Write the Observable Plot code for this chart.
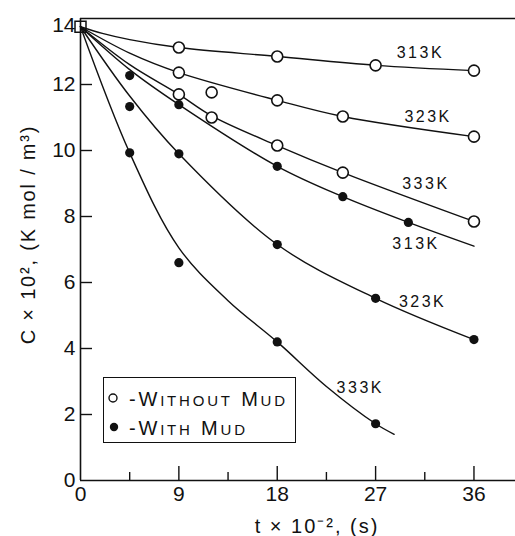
<!DOCTYPE html>
<html><head><meta charset="utf-8">
<script src="https://cdn.jsdelivr.net/npm/d3@7"></script>
<script src="https://cdn.jsdelivr.net/npm/@observablehq/plot@0.6"></script>
<style>
body{margin:0;background:#fff}
#wrap{position:relative;width:515px;height:536px;overflow:hidden}
#legend{position:absolute;left:103px;top:377px;width:193px;height:66px;box-sizing:border-box;border:1.5px solid #111;background:#fff}
</style></head><body><div id="wrap"></div>
<script>
// ---- axis ticks ----
const xTicks = [0, 9, 18, 27, 36];
const xMinorTicks = [4.5, 13.5, 22.5, 31.5];
const yTicks = [0, 2, 4, 6, 8, 10, 12];
const yTopTick = [14];
const xTitle = "t × 10⁻², (s)";
const yTitle = "C × 10², (K mol / m³)";

// ---- initial concentration (square) ----
const initT = [0];
const initC = [13.75];

// ---- measured points: without mud (open circles) ----
const open313T = [9, 18, 27, 36];
const open313C = [13.12, 12.85, 12.58, 12.42];
const open323T = [9, 12, 18, 24, 36];
const open323C = [12.36, 11.76, 11.52, 11.03, 10.42];
const open333T = [9, 12, 18, 24, 36];
const open333C = [11.7, 11.0, 10.15, 9.33, 7.85];

// ---- measured points: with mud (filled dots) ----
const mud313T = [4.5, 9, 18, 24, 30];
const mud313C = [12.27, 11.39, 9.52, 8.6, 7.82];
const mud323T = [4.5, 9, 18, 27, 36];
const mud323C = [11.33, 9.9, 7.15, 5.52, 4.27];
const mud333T = [4.5, 9, 18, 27];
const mud333C = [9.93, 6.6, 4.2, 1.72];

// ---- fitted curves ----
const cOpen313T = [0, 2, 4.5, 9, 18, 27, 36];
const cOpen313C = [13.75, 13.55, 13.36, 13.12, 12.85, 12.58, 12.42];
const cOpen323T = [0, 4.5, 9, 18, 24, 36];
const cOpen323C = [13.75, 12.95, 12.36, 11.52, 11.03, 10.42];
const cOpen333T = [0, 4.5, 9, 12, 18, 24, 36];
const cOpen333C = [13.75, 12.6, 11.7, 11.05, 10.15, 9.33, 7.85];
const cMud313T = [0, 4.5, 9, 18, 24, 30, 36];
const cMud313C = [13.75, 12.45, 11.39, 9.52, 8.6, 7.82, 7.1];
const cMud323T = [0, 4.5, 9, 18, 27, 36];
const cMud323C = [13.75, 11.65, 9.9, 7.15, 5.52, 4.27];
const cMud333T = [0, 4.5, 9, 13.5, 18, 22.5, 27, 28.7];
const cMud333C = [13.75, 9.93, 7.05, 5.45, 4.2, 2.85, 1.72, 1.4];

// ---- curve labels ----
const labelText = ["313K", "323K", "333K", "313K", "323K", "333K"];
const labelT = [31.1, 31.8, 31.6, 30.7, 31.3, 25.6];
const labelC = [12.97, 11.03, 9.0, 7.18, 5.42, 2.82];

// ---- legend ----
const legendItems = ["-WITHOUT MUD", "-WITH MUD"];

const zip = (T, C) => T.map((t, i) => ({t, c: C[i]}));
const curves = [
  zip(cOpen313T, cOpen313C), zip(cOpen323T, cOpen323C), zip(cOpen333T, cOpen333C),
  zip(cMud313T, cMud313C), zip(cMud323T, cMud323C), zip(cMud333T, cMud333C)
];
const openPts = [...zip(open313T, open313C), ...zip(open323T, open323C), ...zip(open333T, open333C)];
const mudPts = [...zip(mud313T, mud313C), ...zip(mud323T, mud323C), ...zip(mud333T, mud333C)];
const labels = labelText.map((s, i) => ({s, t: labelT[i], c: labelC[i]}));

const W = 515, H = 536, mL = 80, mR = 0, mT = 18, mB = 56;
const frameW = W - mL - mR, frameH = H - mT - mB;
const ink = "#111";

const plot = Plot.plot({
  width: W, height: H,
  marginLeft: mL, marginRight: mR, marginTop: mT, marginBottom: mB,
  x: {domain: [0, 39.8]},
  y: {domain: [0, 14]},
  style: {fontFamily: "Liberation Sans, Arial, sans-serif", fontSize: "21px", color: ink, background: "#fff"},
  marks: [
    // frame lines
    Plot.ruleX([0], {stroke: ink, strokeWidth: 1.6}),
    Plot.ruleY([0], {stroke: ink, strokeWidth: 1.6}),
    Plot.ruleY([14], {stroke: ink, strokeWidth: 1.3}),
    // inward ticks
    Plot.tickX(xTicks.slice(1), {stroke: ink, strokeWidth: 1.4, insetTop: frameH - 14}),
    Plot.tickX(xMinorTicks, {stroke: ink, strokeWidth: 1.4, insetTop: frameH - 8}),
    Plot.tickY(yTicks.slice(1), {stroke: ink, strokeWidth: 1.4, insetRight: frameW - 12}),
    // tick labels
    Plot.axisX({ticks: xTicks, tickSize: 0, tickPadding: 6, label: null, fontSize: 21}),
    Plot.axisY({ticks: yTicks, tickSize: 0, tickPadding: 5, label: null, fontSize: 21}),
    Plot.axisY({ticks: yTopTick, tickSize: 0, tickPadding: 5, label: null, fontSize: 21, dy: 7}),
    // titles
    Plot.text([xTitle], {frameAnchor: "bottom", text: d => d, textAnchor: "middle", lineAnchor: "middle", dx: 19, dy: 46, fontSize: 20, ariaDescription: "xtitle"}),
    Plot.text([yTitle], {frameAnchor: "left", text: d => d, textAnchor: "middle", lineAnchor: "middle", rotate: -90, dx: -52, dy: -15, fontSize: 20, ariaDescription: "ytitle"}),
    // curves
    ...curves.map(cv => Plot.line(cv, {x: "t", y: "c", curve: "catmull-rom", stroke: ink, strokeWidth: 1.4})),
    // points
    Plot.dot(zip(initT, initC), {x: "t", y: "c", symbol: "square", r: 6.2, stroke: ink, strokeWidth: 1.5, fill: "none"}),
    Plot.dot(openPts, {x: "t", y: "c", r: 5.5, stroke: ink, strokeWidth: 1.6, fill: "#fff"}),
    Plot.dot(mudPts, {x: "t", y: "c", r: 4.6, fill: ink, stroke: "none"}),
    // labels
    Plot.text(labels, {x: "t", y: "c", text: "s", fontSize: 16, ariaDescription: "templabels"})
  ]
});

const wrap = document.getElementById("wrap");
wrap.appendChild(plot);
d3.select(plot).selectAll('g[aria-description="templabels"] text').style("letter-spacing", "2.5px");
d3.select(plot).selectAll('g[aria-description="ytitle"] text').style("letter-spacing", "1.8px");
d3.select(plot).selectAll('g[aria-description="xtitle"] text').style("letter-spacing", "2px");

// legend box (HTML overlay with inline svg)
const leg = document.createElement("div");
leg.id = "legend";
wrap.appendChild(leg);
const ls = d3.select(leg).append("svg").attr("width", 190).attr("height", 63)
  .style("font-family", "Liberation Sans, Arial, sans-serif").style("position", "absolute").style("left", "0").style("top", "0");
ls.append("circle").attr("cx", 9).attr("cy", 20).attr("r", 4).attr("fill", "#fff").attr("stroke", ink).attr("stroke-width", 1.4);
ls.append("circle").attr("cx", 10).attr("cy", 49).attr("r", 4.2).attr("fill", ink);
function smallCaps(g, x, y, str) {
  const t = g.append("text").attr("x", x).attr("y", y).attr("fill", ink).style("letter-spacing", "2.8px");
  str.split(/(\s+)/).forEach(tok => {
    if (/^\s+$/.test(tok)) { t.append("tspan").attr("font-size", 20).text(tok); return; }
    const m = tok.match(/^([^A-Z]*[A-Z])(.*)$/);
    t.append("tspan").attr("font-size", 20).text(m[1]);
    if (m[2]) t.append("tspan").attr("font-size", 15).text(m[2]);
  });
}
smallCaps(ls, 25, 28, legendItems[0]);
smallCaps(ls, 25, 57, legendItems[1]);
</script></body></html>
